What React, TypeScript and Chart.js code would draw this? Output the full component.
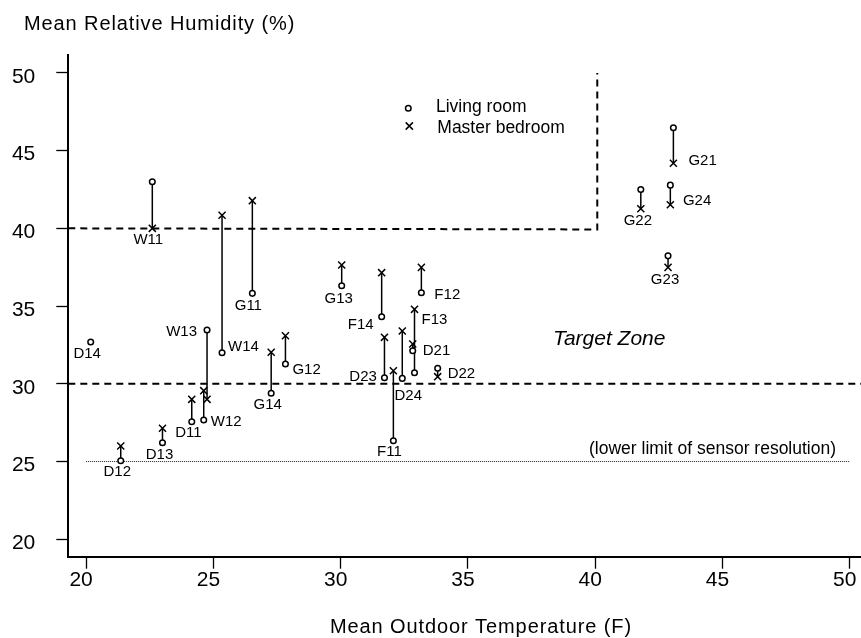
import React, { useEffect, useRef } from 'react';
import { Chart, registerables } from 'chart.js';

Chart.register(...registerables);

const FONT = '"Liberation Sans", Arial, Helvetica, sans-serif';

// ---------------- data ----------------
const visitLabels = ['W11', 'W12', 'W13', 'W14', 'G11', 'G12', 'G13', 'G14', 'D11', 'D12', 'D13', 'D14', 'F11', 'F12', 'F13', 'F14', 'D21', 'D22', 'D23', 'D24', 'G21', 'G22', 'G23', 'G24'];
const outdoorTempF = [22.6, 24.62, 24.75, 25.34, 26.53, 27.83, 30.04, 27.27, 24.15, 21.36, 23.0, 20.18, 32.07, 33.17, 32.9, 31.61, 32.83, 33.81, 31.72, 32.42, 43.07, 41.79, 42.86, 42.95];
const livingRoomRH = [43.0, 27.67, 33.46, 32.0, 35.82, 31.27, 36.31, 29.39, 27.56, 25.05, 26.21, 32.69, 26.34, 35.86, 30.71, 34.31, 32.13, 31.0, 30.39, 30.35, 46.47, 42.5, 38.23, 42.78];
const masterBedroomRH: (number | null)[] = [40.0, 29.56, 29.0, 40.84, 41.78, 33.09, 37.64, 32.03, 29.0, 26.0, 27.14, null, 30.84, 37.49, 34.79, 37.15, 32.56, 30.46, 32.99, 33.4, 44.19, 41.26, 37.49, 41.52];

const xTickValues = [20, 25, 30, 35, 40, 45, 50];
const yTickValues = [20, 25, 30, 35, 40, 45, 50];

const targetUpperX = [19.3, 40.08, 40.08];
const targetUpperY = [40, 39.93, 50];
const targetLowerX = [19.3, 50.44];
const targetLowerY = [30, 30];
const sensorLimitX = [20, 50];
const sensorLimitY = [25, 25];

const X_MIN = 19.3;
const X_MAX = 50.44;
const Y_MIN = 18.88;
const Y_MAX = 51.15;

const yAxisTitle = 'Mean Relative Humidity (%)';
const xAxisTitle = 'Mean Outdoor Temperature (F)';
const targetZoneText = 'Target Zone';
const sensorLimitText = '(lower limit of sensor resolution)';
const legendLiving = 'Living room';
const legendBedroom = 'Master bedroom';

// ---------------- label placement (style) ----------------
// [anchor: 'L' living / 'B' bedroom, textAlign, dx, dy]
const labelPlacement: Record<string, [string, CanvasTextAlign, number, number]> = {
  W11: ['B', 'center', -4, 12],
  W12: ['L', 'left', 7, 2],
  W13: ['L', 'right', -10, 1.5],
  W14: ['L', 'left', 6, -6],
  G11: ['L', 'center', -4, 12.5],
  G12: ['L', 'left', 7, 6],
  G13: ['L', 'center', -3, 13],
  G14: ['L', 'center', -3.5, 11.5],
  D11: ['L', 'center', -3.4, 11],
  D12: ['L', 'center', -3.5, 11],
  D13: ['L', 'center', -3, 12.3],
  D14: ['L', 'center', -3.5, 12],
  F11: ['L', 'center', -4, 11],
  F12: ['L', 'left', 13, 2],
  F13: ['B', 'left', 7, 11],
  F14: ['L', 'right', -8, 8],
  D21: ['L', 'left', 10, 0],
  D22: ['B', 'left', 10, -3],
  D23: ['L', 'right', -7.6, -1],
  D24: ['L', 'center', 6, 17],
  G21: ['B', 'left', 15, -2],
  G22: ['B', 'center', -3, 12],
  G23: ['B', 'center', -3, 12],
  G24: ['B', 'left', 12.6, -4],
};

const annotationPlugin = {
  id: 'annotations',
  afterDatasetsDraw(chart: any) {
    const { ctx } = chart;
    const xs = chart.scales.x;
    const ys = chart.scales.y;
    ctx.save();
    ctx.fillStyle = '#000';
    ctx.font = `15px ${FONT}`;
    ctx.textBaseline = 'middle';
    visitLabels.forEach((lab, i) => {
      const p = labelPlacement[lab];
      if (!p) return;
      const v = p[0] === 'B' ? masterBedroomRH[i] : livingRoomRH[i];
      if (v == null) return;
      ctx.textAlign = p[1];
      ctx.fillText(lab, xs.getPixelForValue(outdoorTempF[i]) + p[2], ys.getPixelForValue(v) + p[3]);
    });

    // Target zone text
    ctx.textBaseline = 'alphabetic';
    ctx.textAlign = 'left';
    ctx.font = `italic 21px ${FONT}`;
    ctx.fillText(targetZoneText, 553, 345);

    ctx.font = `17.5px ${FONT}`;
    ctx.fillText(sensorLimitText, 589, 454);

    // legend
    ctx.fillText(legendLiving, 436, 111.7);
    ctx.fillText(legendBedroom, 437.3, 132.7);
    ctx.strokeStyle = '#000';
    ctx.lineWidth = 1.5;
    ctx.beginPath();
    ctx.arc(408.3, 108.3, 2.8, 0, Math.PI * 2);
    ctx.fillStyle = '#fff';
    ctx.fill();
    ctx.stroke();
    const cx = 409.3, cy = 126, h = 3.6;
    ctx.beginPath();
    ctx.moveTo(cx - h, cy - h);
    ctx.lineTo(cx + h, cy + h);
    ctx.moveTo(cx + h, cy - h);
    ctx.lineTo(cx - h, cy + h);
    ctx.stroke();

    // axis titles
    ctx.fillStyle = '#000';
    ctx.font = `20px ${FONT}`;
    ctx.letterSpacing = '0.9px';
    ctx.textAlign = 'left';
    ctx.fillText(yAxisTitle, 24, 29.5);
    ctx.textAlign = 'center';
    ctx.fillText(xAxisTitle, 481, 633.3);
    ctx.letterSpacing = '0px';
    ctx.restore();
  },
};

function zip(xs: number[], ys: (number | null)[]) {
  return xs.map((x, i) => ({ x, y: ys[i] }));
}

export default function App() {
  const ref = useRef<HTMLCanvasElement>(null);
  useEffect(() => {
    const canvas = ref.current;
    if (!canvas) return;

    const livingPts = outdoorTempF.map((x, i) => ({ x, y: livingRoomRH[i] }));
    const bedPts = outdoorTempF
      .map((x, i) => ({ x, y: masterBedroomRH[i] }))
      .filter((p) => p.y != null);
    const pairLines: { x: number; y: number | null }[] = [];
    outdoorTempF.forEach((x, i) => {
      const b = masterBedroomRH[i];
      if (b == null) return;
      pairLines.push({ x, y: livingRoomRH[i] }, { x, y: b }, { x, y: null });
    });

    const chart = new Chart(canvas, {
      type: 'scatter',
      data: {
        datasets: [
          {
            label: legendLiving,
            data: livingPts as any,
            pointStyle: 'circle',
            pointRadius: 2.8,
            pointBorderWidth: 1.5,
            pointBorderColor: '#000',
            pointBackgroundColor: '#fff',
            order: 1,
          },
          {
            label: legendBedroom,
            data: bedPts as any,
            pointStyle: 'crossRot',
            pointRadius: 5,
            pointBorderWidth: 1.5,
            pointBorderColor: '#000',
            pointBackgroundColor: '#000',
            order: 0,
          },
          {
            label: 'pairs',
            data: pairLines as any,
            showLine: true,
            spanGaps: false,
            borderColor: '#000',
            borderWidth: 1.5,
            pointRadius: 0,
            order: 5,
          },
          {
            label: 'upper',
            data: zip(targetUpperX, targetUpperY) as any,
            showLine: true,
            borderColor: '#000',
            borderWidth: 2,
            borderDash: [7, 5],
            pointRadius: 0,
            order: 6,
          },
          {
            label: 'lower',
            data: zip(targetLowerX, targetLowerY) as any,
            showLine: true,
            borderColor: '#000',
            borderWidth: 2,
            borderDash: [7, 5],
            pointRadius: 0,
            order: 6,
          },
          {
            label: 'sensor',
            data: zip(sensorLimitX, sensorLimitY) as any,
            showLine: true,
            borderColor: '#222',
            borderWidth: 1,
            borderDash: [1, 1],
            pointRadius: 0,
            order: 7,
          },
        ],
      },
      options: {
        responsive: false,
        animation: false,
        events: [],
        layout: { autoPadding: false, padding: { top: 55, left: 0, right: 0, bottom: 0 } },
        plugins: {
          legend: { display: false },
          tooltip: { enabled: false },
          title: { display: false },
        },
        scales: {
          x: {
            type: 'linear',
            min: X_MIN,
            max: X_MAX,
            afterBuildTicks: (s: any) => {
              s.ticks = xTickValues.map((v) => ({ value: v }));
            },
            afterFit: (s: any) => {
              s.height = 81.3;
              s.paddingLeft = 0;
              s.paddingRight = 0;
            },
            grid: {
              display: true,
              drawOnChartArea: false,
              drawTicks: true,
              tickLength: 12,
              tickColor: '#000',
              tickWidth: 1.3,
            },
            border: { display: true, color: '#000', width: 2 },
            ticks: {
              color: '#000',
              font: { family: FONT, size: 21, lineHeight: 1 },
              padding: 1,
              labelOffset: -5,
              maxRotation: 0,
              autoSkip: false,
            },
          },
          y: {
            type: 'linear',
            min: Y_MIN,
            max: Y_MAX,
            afterBuildTicks: (s: any) => {
              s.ticks = yTickValues.map((v) => ({ value: v }));
            },
            afterFit: (s: any) => {
              s.width = 68.3;
              s.paddingTop = 0;
              s.paddingBottom = 0;
            },
            grid: {
              display: true,
              drawOnChartArea: false,
              drawTicks: true,
              tickLength: 12,
              tickColor: '#000',
              tickWidth: 1.3,
            },
            border: { display: true, color: '#000', width: 2 },
            ticks: {
              color: '#000',
              font: { family: FONT, size: 21, lineHeight: 1 },
              padding: 21,
              labelOffset: 4,
              autoSkip: false,
            },
          },
        },
      },
      plugins: [annotationPlugin],
    });
    return () => chart.destroy();
  }, []);

  return (
    <div style={{ position: 'fixed', left: 0, top: 0, width: 861, height: 638, background: '#fff' }}>
      <canvas ref={ref} width={861} height={638} style={{ display: 'block' }} />
    </div>
  );
}
